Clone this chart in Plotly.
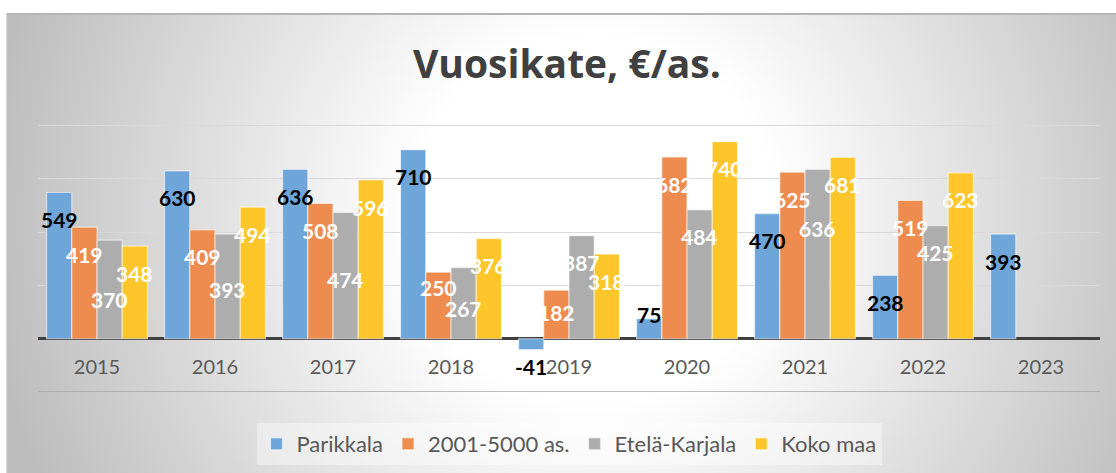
import base64
import plotly.graph_objects as go

# ─── DATA ────────────────────────────────────────────────────────────────────
years = ["2015", "2016", "2017", "2018", "2019", "2020", "2021", "2022", "2023"]
parikkala = [549, 630, 636, 710, -41, 75, 470, 238, 393]
kunnat_2001_5000 = [419, 409, 508, 250, 182, 682, 625, 519, None]
etela_karjala = [370, 393, 474, 267, 387, 484, 636, 425, None]
koko_maa = [348, 494, 596, 376, 318, 740, 681, 623, None]

series_names = ["Parikkala", "2001-5000 as.", "Etelä-Karjala", "Koko maa"]
series_values = [parikkala, kunnat_2001_5000, etela_karjala, koko_maa]

# ─── STYLE ───────────────────────────────────────────────────────────────────
W, H = 1116, 473
M_L, M_R, M_T, M_B = 38, 16, 123, 81
Y_MIN, Y_MAX = -200, 810
BARGAP = 0.145
COLORS = ["#6FA6D9", "#EE8B4E", "#ADADAD", "#FEC62A"]
LABEL_COLORS = ["#000000", "#FFFFFF", "#FFFFFF", "#FFFFFF"]
FONT = "Lato, 'Open Sans', sans-serif"

# label offset (px, relative to bar end); a few labels were nudged in the original
LABEL_SHIFT = -27
LABEL_SHIFT_OVERRIDE = {
    (0, 2): -59, (1, 2): -55, (2, 2): -67, (3, 1): -15, (3, 2): -41,
    (4, 1): -22, (4, 0): -17, (5, 0): 4, (6, 2): -59,
}

# ─── BACKGROUND (radial gradient chart area) ─────────────────────────────────
area_x0, area_y0 = 6, 13
area_w, area_h = W - area_x0, H - area_y0
svg = f"""<svg xmlns="http://www.w3.org/2000/svg" width="{area_w}" height="{area_h}">
<defs><radialGradient id="g" gradientUnits="userSpaceOnUse" cx="{area_w*0.53}" cy="{area_h*0.45}" r="610">
<stop offset="0" stop-color="#ffffff"/><stop offset="0.3" stop-color="#ffffff"/>
<stop offset="1" stop-color="#bdbdbd"/></radialGradient></defs>
<rect x="0" y="0" width="{area_w}" height="{area_h}" fill="url(#g)"/>
<line x1="0" y1="1" x2="{area_w}" y2="1" stroke="#b5b5b5" stroke-width="2"/>
<line x1="0.5" y1="0" x2="0.5" y2="{area_h}" stroke="#d8d8d8" stroke-width="1"/>
</svg>"""
svg_uri = "data:image/svg+xml;base64," + base64.b64encode(svg.encode()).decode()

plot_w = W - M_L - M_R
plot_h = H - M_T - M_B

fig = go.Figure()
for name, vals, col in zip(series_names, series_values, COLORS):
    fig.add_trace(go.Bar(
        x=years, y=vals, name=name,
        marker=dict(color=col, line=dict(color="rgba(255,255,255,0.55)", width=1.2)),
        hoverinfo="skip",
    ))

# data labels (category axis -> use category index for x)
slot = plot_w / len(years) * (1 - BARGAP) / len(series_names)
annotations = []
for si, (vals, lc) in enumerate(zip(series_values, LABEL_COLORS)):
    for ci, v in enumerate(vals):
        if v is None:
            continue
        annotations.append(dict(
            x=ci, y=v, xref="x", yref="y", text=f"<b>{v}</b>", showarrow=False,
            xshift=(si - 1.5) * slot,
            yshift=LABEL_SHIFT_OVERRIDE.get((ci, si), LABEL_SHIFT),
            font=dict(family=FONT, size=21, color=lc),
        ))

fig.update_layout(
    width=W, height=H,
    margin=dict(l=M_L, r=M_R, t=M_T, b=M_B, autoexpand=False),
    paper_bgcolor="white",
    plot_bgcolor="rgba(0,0,0,0)",
    barmode="group", bargap=BARGAP, bargroupgap=0,
    font=dict(family=FONT, color="#595959"),
    title=dict(text="<b>Vuosikate, €/as.</b>", x=0.508, xanchor="center",
               y=1 - 64 / H, yanchor="middle", yref="container",
               font=dict(family="'Open Sans', sans-serif", size=39, color="#404040")),
    xaxis=dict(
        type="category", anchor="free", position=-Y_MIN / (Y_MAX - Y_MIN),
        range=[-0.5, len(years) - 0.5],
        showgrid=False, showline=False, ticks="outside", ticklen=10,
        tickcolor="rgba(0,0,0,0)", tickfont=dict(family=FONT, size=20, color="#595959"),
    ),
    yaxis=dict(
        range=[Y_MIN, Y_MAX], dtick=200, showticklabels=False,
        showgrid=True, gridcolor="#d9d9d9", gridwidth=1,
        zeroline=True, zerolinecolor="#404040", zerolinewidth=3,
    ),
    legend=dict(
        orientation="h", x=0.5, xanchor="center", y=-(444 - (H - M_B)) / plot_h, yanchor="middle",
        bgcolor="rgba(255,255,255,0.4)", font=dict(family=FONT, size=22, color="#595959"),
        itemwidth=30,
    ),
    annotations=annotations,
    shapes=[dict(type="line", xref="paper", yref="y", x0=0, x1=1, y0=-200, y1=-200,
                 line=dict(color="#a6a6a6", width=1.5))],
    images=[dict(
        source=svg_uri, xref="paper", yref="paper",
        x=(area_x0 - M_L) / plot_w, y=(H - M_B - area_y0) / plot_h,
        sizex=area_w / plot_w, sizey=area_h / plot_h,
        xanchor="left", yanchor="top", sizing="stretch", layer="below",
    )],
)

# drop the browser's default body margin so the figure fills the window
fig.write_html("out.html", config={"displayModeBar": False},
               post_script="document.body.style.margin='0';")
